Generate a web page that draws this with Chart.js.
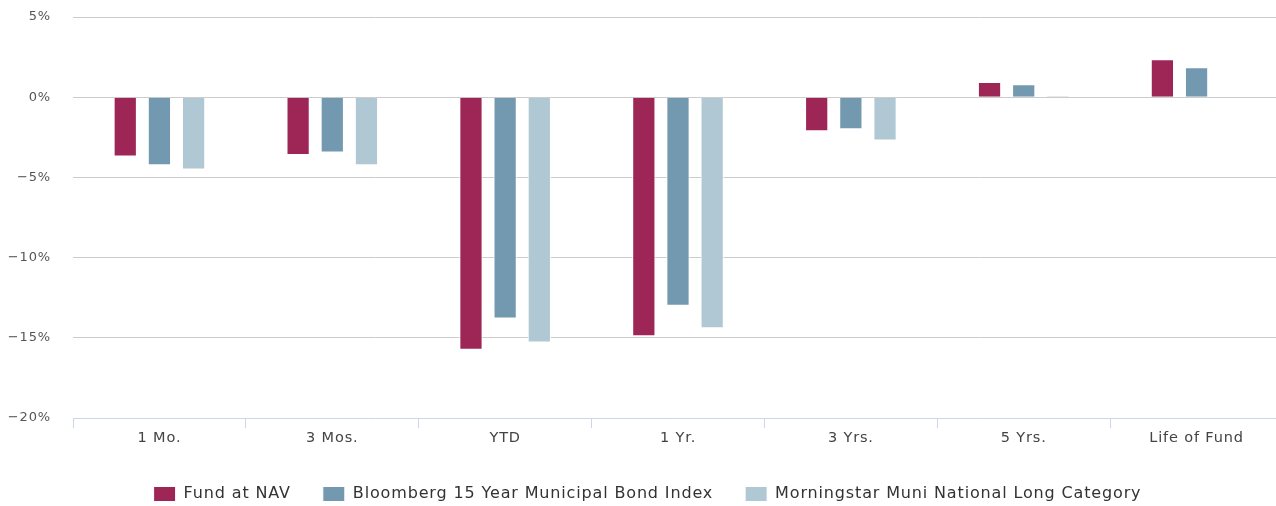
<!DOCTYPE html>
<html>
<head>
<meta charset="utf-8">
<script src="https://cdn.jsdelivr.net/npm/chart.js@4/dist/chart.umd.min.js"></script>
<style>
  html, body { margin: 0; padding: 0; background: #fff; overflow: hidden; }
  #wrap { width: 1283px; height: 506px; position: relative; }
</style>
</head>
<body>
<div id="wrap"><canvas id="perfChart"></canvas></div>
<script>
// ==========================================
// DATA
// ==========================================

const categories = ["1 Mo.", "3 Mos.", "YTD", "1 Yr.", "3 Yrs.", "5 Yrs.", "Life of Fund"];

const fundNav = [-3.69, -3.6, -15.75, -14.9, -2.13, 0.94, 2.37];

const bloombergIdx = [-4.25, -3.45, -13.8, -13.0, -2.0, 0.8, 1.87];

const morningstarCat = [-4.5, -4.25, -15.3, -14.4, -2.7, 0.08, null];

const yTicks = [-20, -15, -10, -5, 0, 5];


// ==========================================
// CHART
// ==========================================

const fontFam = "'DejaVu Sans', sans-serif";

// spaced-out lettering like the original
const spacingPlugin = {
    id: "spacing",
    beforeUpdate(c) { c.ctx.letterSpacing = "0.85px"; },
    beforeLayout(c) { c.ctx.letterSpacing = "0.85px"; },
    afterLayout(c) {
        // legend sits a little right of the canvas centre
        if (c.legend) { c.legend.left += 6; c.legend.right += 6; }
    },
    beforeDraw(c) { c.ctx.letterSpacing = "0.85px"; }
};

const ctx = document.getElementById("perfChart").getContext("2d");

const chart = new Chart(ctx, {

    type: "bar",

    plugins: [spacingPlugin],

    data: {

        labels: categories,

        datasets: [

            {
                label: "Fund at NAV",
                data: fundNav,
                backgroundColor: "#9e2656",
                borderColor: "#ffffff",
                borderWidth: 1
            },

            {
                label: "Bloomberg 15 Year Municipal Bond Index",
                data: bloombergIdx,
                backgroundColor: "#7399b0",
                borderColor: "#ffffff",
                borderWidth: 1
            },

            {
                label: "Morningstar Muni National Long Category",
                data: morningstarCat,
                backgroundColor: "#b0c8d4",
                borderColor: "#ffffff",
                borderWidth: 1
            }

        ]

    },

    options: {

        responsive: true,

        maintainAspectRatio: false,

        animation: false,

        datasets: {
            bar: {
                categoryPercentage: 0.593,
                barPercentage: 0.68
            }
        },

        layout: {
            padding: { top: 17, right: 0, left: 0, bottom: 0 }
        },

        scales: {

            x: {
                grid: {
                    drawOnChartArea: false,
                    drawTicks: true,
                    tickLength: 10,
                    color: "#ccd6eb"
                },
                border: { display: true, color: "#ccd6eb" },
                afterFit: function(scale) {
                    scale.height = 36;
                },
                ticks: {
                    color: "#444",
                    padding: 2,
                    font: { family: fontFam, size: 14.5 }
                }
            },

            y: {
                min: yTicks[0],
                max: yTicks[yTicks.length - 1],
                afterBuildTicks: function(scale) {
                    scale.ticks = yTicks.map(v => ({ value: v }));
                },
                afterFit: function(scale) {
                    scale.width = 73;
                    scale.paddingTop = 0;
                    scale.paddingBottom = 0;
                },
                border: { display: false },
                grid: {
                    drawTicks: false,
                    color: c => (c.tick && c.tick.value === yTicks[0]) ? "rgba(0,0,0,0)" : "#cccccc"
                },
                ticks: {
                    color: "#555",
                    padding: 22,
                    font: { family: fontFam, size: 13 },
                    callback: v => (v < 0 ? "\u2212" + Math.abs(v) : v) + "%"
                }
            }

        },

        plugins: {

            legend: {
                position: "bottom",
                maxHeight: 52,
                labels: {
                    color: "#333",
                    boxWidth: 22,
                    boxHeight: 15,
                    padding: 32,
                    font: { family: fontFam, size: 16 }
                }
            },

            tooltip: { enabled: false }

        }

    }

});
</script>
</body>
</html>
